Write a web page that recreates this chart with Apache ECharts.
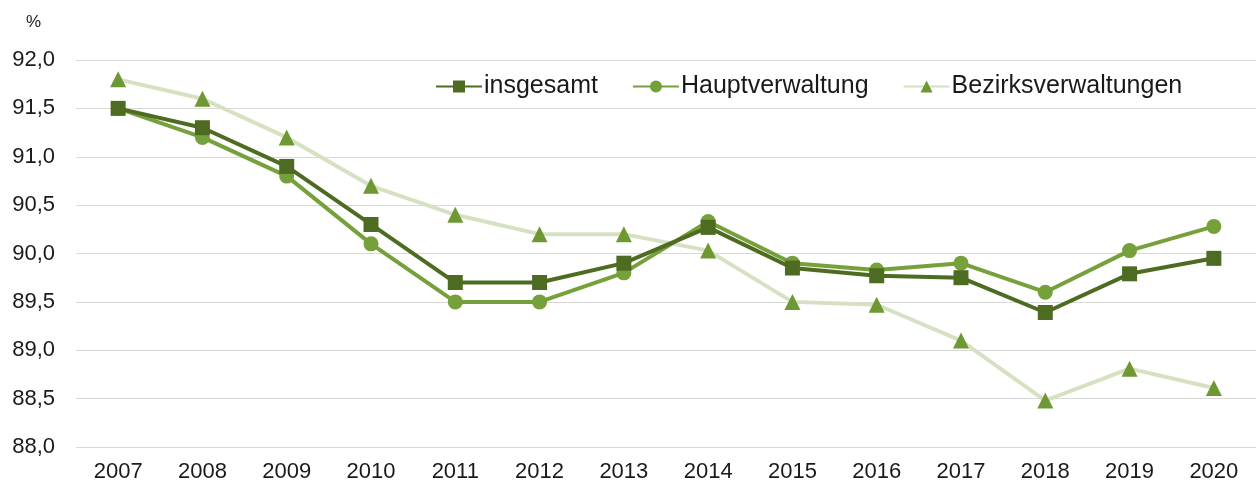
<!DOCTYPE html>
<html>
<head>
<meta charset="utf-8">
<script src="https://cdn.jsdelivr.net/npm/echarts@6/dist/echarts.min.js"></script>
<style>
  html, body { margin: 0; padding: 0; background: #fff; }
  #chart { width: 1256px; height: 484px; }
</style>
</head>
<body>
<div id="chart"></div>
<script>
const years = ['2007', '2008', '2009', '2010', '2011', '2012', '2013', '2014', '2015', '2016', '2017', '2018', '2019', '2020']
const insgesamt = [91.5, 91.3, 90.9, 90.3, 89.7, 89.7, 89.9, 90.27, 89.85, 89.77, 89.75, 89.39, 89.79, 89.95]
const hauptverwaltung = [91.5, 91.2, 90.8, 90.1, 89.5, 89.5, 89.8, 90.33, 89.9, 89.83, 89.9, 89.6, 90.03, 90.28]
const bezirksverwaltungen = [91.8, 91.6, 91.2, 90.7, 90.4, 90.2, 90.2, 90.03, 89.5, 89.47, 89.1, 88.48, 88.81, 88.61]

const textColor = '#1a1a1a'
const font = 'Liberation Sans, Arial, sans-serif'

const chart = echarts.init(document.getElementById('chart'))
chart.setOption({
  animation: false,
  backgroundColor: '#fff',
  title: {
    text: '%',
    left: 21,
    top: 9,
    textStyle: { color: textColor, fontSize: 17, fontWeight: 'normal', fontFamily: font }
  },
  legend: {
    top: 69,
    left: 430,
    itemWidth: 46,
    itemHeight: 15,
    itemGap: 34,
    textStyle: { color: textColor, fontSize: 25, fontFamily: font, padding: [0, 0, 0, -3] },
    data: ['insgesamt', 'Hauptverwaltung', 'Bezirksverwaltungen']
  },
  grid: {
    left: 76,
    right: 0,
    top: 60,
    bottom: 37,
    outerBoundsMode: 'none'
  },
  xAxis: {
    type: 'category',
    data: years,
    boundaryGap: true,
    axisLine: { show: false },
    axisTick: { show: false },
    axisLabel: { color: textColor, fontSize: 22, margin: 14, fontFamily: font }
  },
  yAxis: {
    type: 'value',
    min: 88,
    max: 92,
    interval: 0.5,
    axisLine: { show: false },
    axisTick: { show: false },
    axisLabel: {
      color: textColor,
      fontSize: 22,
      margin: 21,
      fontFamily: font,
      formatter: function (v) { return v.toFixed(1).replace('.', ',') }
    },
    splitLine: { lineStyle: { color: '#d9d9d9', width: 1 } }
  },
  series: [
    {
      name: 'Bezirksverwaltungen',
      type: 'line',
      data: bezirksverwaltungen,
      symbol: 'triangle',
      symbolSize: 16,
      z: 1,
      lineStyle: { color: '#d6e1c2', width: 4 },
      itemStyle: { color: '#6e9834' }
    },
    {
      name: 'Hauptverwaltung',
      type: 'line',
      data: hauptverwaltung,
      symbol: 'circle',
      symbolSize: 15,
      z: 2,
      lineStyle: { color: '#76a03a', width: 4 },
      itemStyle: { color: '#76a03a' }
    },
    {
      name: 'insgesamt',
      type: 'line',
      data: insgesamt,
      symbol: 'rect',
      symbolSize: 15,
      z: 3,
      lineStyle: { color: '#4e6b22', width: 4 },
      itemStyle: { color: '#4e6b22' }
    }
  ]
})
</script>
</body>
</html>
